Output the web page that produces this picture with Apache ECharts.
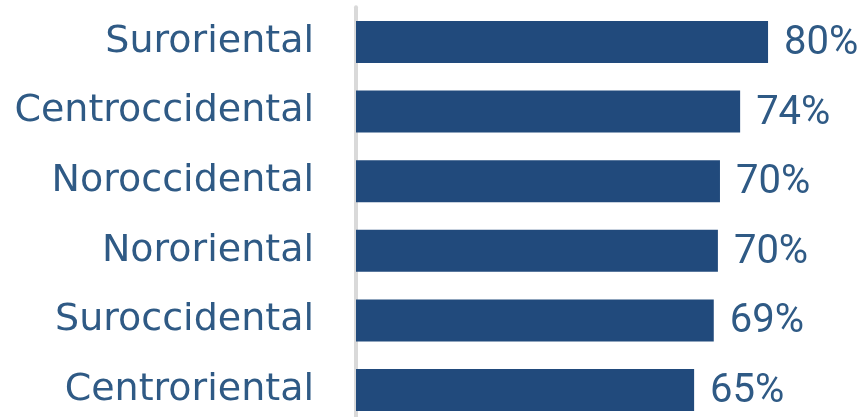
<!DOCTYPE html>
<html>
<head>
<meta charset="utf-8">
<script src="https://cdn.jsdelivr.net/npm/echarts@6/dist/echarts.min.js"></script>
<style>
html,body{margin:0;padding:0;background:#fff;}
#chart{width:858px;height:417px;}
</style>
</head>
<body>
<div id="chart"></div>
<script>
var categories = ['Suroriental', 'Centroccidental', 'Noroccidental', 'Nororiental', 'Suroccidental', 'Centroriental'];
var values = [79.7, 74.3, 70.4, 70.0, 69.2, 65.4];

var chart = echarts.init(document.getElementById('chart'));
chart.setOption({
  animation: false,
  grid: { left: 356, width: 413.6, top: 7.2, height: 417.6, containLabel: false, outerBoundsMode: 'none' },
  xAxis: {
    type: 'value', min: 0, max: 80, show: false
  },
  yAxis: {
    type: 'category',
    inverse: true,
    data: categories,
    offset: 2,
    axisLine: { show: true, lineStyle: { color: '#d9d9d9', width: 4 } },
    axisTick: { show: false },
    axisLabel: {
      margin: 40,
      color: '#2f5a85',
      fontFamily: 'DejaVu Sans',
      fontSize: 38,
      padding: [2, 0, 0, 0]
    }
  },
  series: [{
    type: 'bar',
    data: values,
    barWidth: 42,
    itemStyle: { color: '#214a7c' },
    label: {
      show: true,
      position: 'right',
      distance: 16,
      offset: [0, 2],
      color: '#2f5a85',
      fontFamily: 'Roboto',
      fontSize: 40,
      formatter: function (p) { return Math.round(p.value) + '%'; }
    }
  }]
});
</script>
</body>
</html>
